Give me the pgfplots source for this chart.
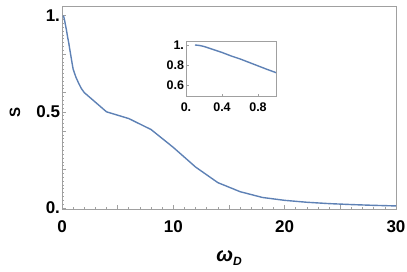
\documentclass[border=0pt]{standalone}
\usepackage{pgfplots}
\pgfplotsset{compat=1.18}
\usepackage{fontspec}
\setmainfont{Liberation Sans}
\definecolor{mblue}{RGB}{94,129,181}
\definecolor{fgray}{RGB}{160,160,160}
\begin{document}
\begin{tikzpicture}
\path[use as bounding box] (-62pt,-62pt) rectangle (345pt,209pt);
\begin{axis}[
  at={(0,0)}, anchor=south west,
  scale only axis, width=334pt, height=203pt,
  xmin=0, xmax=30, ymin=-0.005, ymax=1.05,
  axis line style={fgray, line width=0.8pt},
  every tick/.style={fgray, line width=0.6pt},
  tick align=inside,
  xtick pos=bottom, ytick pos=left,
  xtick={0,10,20,30}, xticklabels={0,10,20,30},
  extra x ticks={5,15,25}, extra x tick labels={},
  minor x tick num=9,
  ytick={0,0.5,1}, yticklabels={0.,0.5,1.},
  extra y ticks={0.2,0.4,0.6,0.8}, extra y tick labels={},
  minor y tick num=24,
  major tick length=4pt, minor tick length=2pt,
  /pgf/number format/assume math mode=true,
  ticklabel style={font=\fontsize{17}{17}\selectfont\bfseries, text=black},
  xticklabel style={yshift=-8pt},
  yticklabel style={xshift=1.5pt},
  xlabel={\bfseries\itshape ω\raisebox{-0.35ex}{\fontsize{12}{12}\selectfont D}},
  xlabel style={at={(axis description cs:0.5,0)}, anchor=center, yshift=-49pt, font=\fontsize{20}{20}\selectfont},
  ylabel={\bfseries S},
  ylabel style={at={(axis description cs:-0.1407,0.475)}, anchor=center, font=\fontsize{15}{15}\selectfont},
]
\addplot[mblue, line width=1.4pt] coordinates {
(0.1,1.0) (0.15,0.995) (0.2,0.985) (0.3,0.955) (0.4,0.925) (0.5,0.89)
(0.6,0.86) (0.7,0.825) (0.8,0.79) (0.9,0.755) (1.0,0.722)
(1.25,0.68) (1.5,0.648) (1.75,0.62) (2,0.60) (4,0.50) (6,0.465) (8,0.408)
(10,0.315) (12,0.213) (14,0.132) (16,0.085) (18,0.055) (20,0.04)
(22,0.03) (24,0.023) (26,0.018) (28,0.014) (30,0.011)
};
\end{axis}
\begin{axis}[
  at={(124pt,112.3pt)}, anchor=south west,
  scale only axis, width=90pt, height=55.7pt,
  xmin=0, xmax=1, ymin=0.48, ymax=1.04,
  axis line style={fgray, line width=0.8pt},
  every tick/.style={fgray, line width=0.5pt},
  tick align=inside,
  xtick pos=bottom, ytick pos=left,
  xtick={0,0.4,0.8}, xticklabels={0.,0.4,0.8},
  minor x tick num=3,
  ytick={0.6,0.8,1}, yticklabels={0.6,0.8,1.},
  minor y tick num=3,
  major tick length=2.5pt, minor tick length=1.2pt,
  /pgf/number format/assume math mode=true,
  ticklabel style={font=\fontsize{12.5}{12.5}\selectfont\bfseries, text=black},
  xticklabel style={yshift=-3pt},
  yticklabel style={xshift=1.5pt},
]
\addplot[mblue, line width=1.4pt] coordinates {
(0.1,1.0) (0.15,0.995) (0.2,0.985) (0.3,0.955) (0.4,0.925) (0.5,0.89)
(0.6,0.86) (0.7,0.825) (0.8,0.79) (0.9,0.755) (1.0,0.722)
};
\end{axis}
\end{tikzpicture}
\end{document}
